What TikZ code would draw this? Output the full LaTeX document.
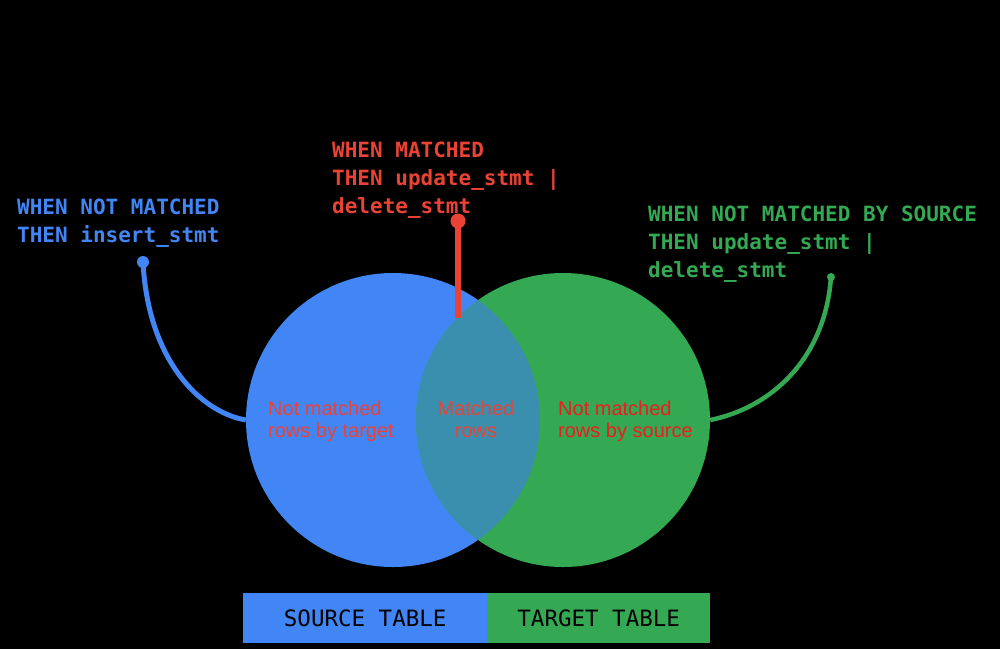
\documentclass[tikz,border=0pt]{standalone}
\usepackage{fontspec}
\setmonofont{DejaVu Sans Mono}
\setsansfont{Liberation Sans}
\definecolor{gblue}{HTML}{4285F4}
\definecolor{ggreen}{HTML}{34A853}
\definecolor{gred}{HTML}{EA4335}
\definecolor{rred}{HTML}{EE1C1C}
\definecolor{lenscol}{HTML}{3A8FAE}
\begin{document}
\begin{tikzpicture}[x=1pt,y=-1pt,
  code/.style={font=\fontsize{21}{28}\selectfont\ttfamily\bfseries, align=left, inner sep=0pt, anchor=base west},
  lbl/.style={font=\fontsize{20}{22}\selectfont\sffamily, inner sep=0pt, anchor=base west, align=left},
  setc/.style={circle, minimum size=294pt, inner sep=0pt},
  bar/.style={minimum height=50pt, inner sep=0pt, anchor=north west, font=\fontsize{22.5}{24}\selectfont\ttfamily, text=black},
  dotc/.style={circle, inner sep=0pt},
]
\fill[black] (0,0) rectangle (1000,649);
\useasboundingbox (0,0) rectangle (1000,649);
% sets
\node[setc, fill=gblue] (src) at (393,420) {};
\node[setc, fill=ggreen] (tgt) at (563,420) {};
\begin{scope}
  \clip (393,420) circle[radius=147pt];
  \fill[lenscol] (563,420) circle[radius=147pt];
\end{scope}
% code texts (anchor = baseline of last line)
\node[code, text=gblue] (lcode) at (17,242) {WHEN NOT MATCHED\\THEN insert\_stmt};
\node[code, text=gred] (ccode) at (332,213) {WHEN MATCHED\\THEN update\_stmt |\\delete\_stmt};
\node[code, text=ggreen] (rcode) at (648,277) {WHEN NOT MATCHED BY SOURCE\\THEN update\_stmt |\\delete\_stmt};
% connectors
\node[dotc, fill=gblue, minimum size=12pt] (ldot) at (143,262) {};
\draw[gblue, line width=5pt] (ldot.center) .. controls (148,360) and (200,412) .. (src.west);
\node[dotc, fill=gred, minimum size=15pt] (cdot) at (458,221) {};
\coordinate (cend) at (458,318);
\draw[gred, line width=6pt] (cdot.center) -- (cend);
\node[dotc, fill=ggreen, minimum size=8pt] (rdot) at (831,277) {};
\draw[ggreen, line width=4.5pt] (rdot.center) .. controls (825,360) and (770,408) .. (tgt.east);
% region labels
\node[lbl, text=gred] (lnm) at (268,437) {Not matched\\rows by target};
\node[lbl, text=gred, align=center, anchor=base] (mr) at (476,437) {Matched\\rows};
\node[lbl, text=rred] (rnm) at (558,437) {Not matched\\rows by source};
% legend bar
\node[bar, fill=gblue, minimum width=244pt] (sbar) at (243,593) {SOURCE TABLE};
\node[bar, fill=ggreen, minimum width=223pt] (tbar) at (487,593) {TARGET TABLE};
\end{tikzpicture}
\end{document}
